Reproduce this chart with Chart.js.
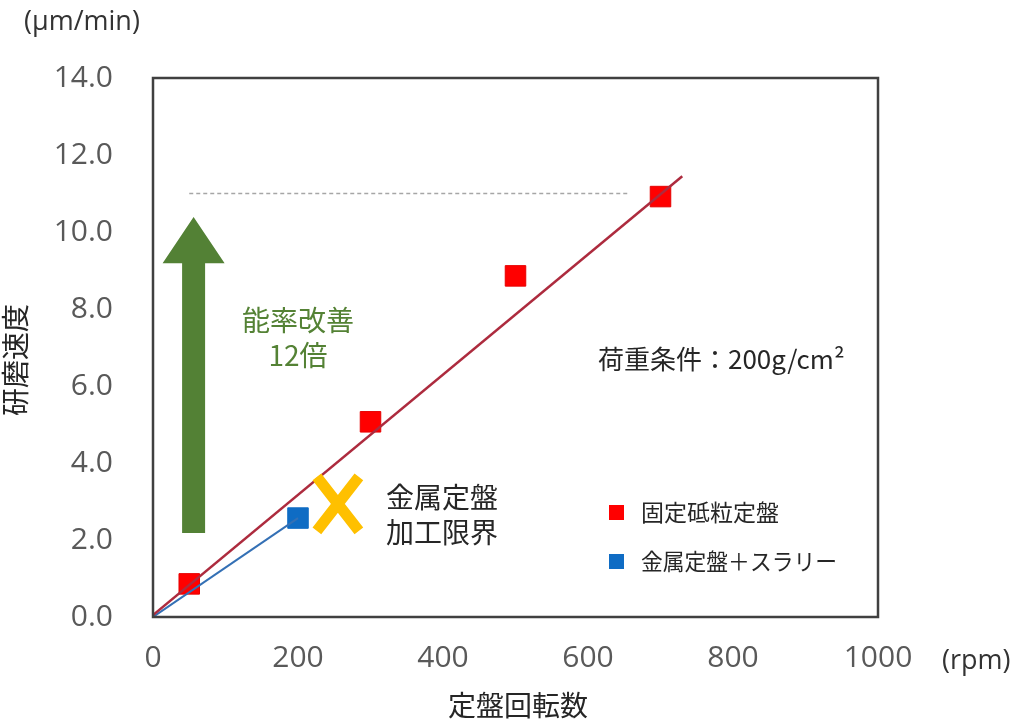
<!DOCTYPE html>
<html>
<head>
<meta charset="utf-8">
<script src="https://cdn.jsdelivr.net/npm/chart.js@4.4.0/dist/chart.umd.min.js"></script>
<style>
  html, body { margin: 0; padding: 0; background: #fff; }
</style>
</head>
<body>
<canvas id="rateChart" width="1014" height="721"></canvas>
<script>
// --- 1. values ---
const xTicks = [0, 200, 400, 600, 800, 1000];
const yTicks = [0, 2, 4, 6, 8, 10, 12, 14];

const fixedRpm = [50, 300, 500, 700];          // 固定砥粒定盤
const fixedRate = [0.86, 5.07, 8.86, 10.92];
const slurryRpm = [200];                        // 金属定盤＋スラリー
const slurryRate = [2.57];

const fixedTrendRpm = [0, 730];
const fixedTrendRate = [0.05, 11.45];
const slurryTrendRpm = [0, 200];
const slurryTrendRate = [0, 2.57];
const targetRpm = [50, 655];                    // dashed guide at the 700rpm level
const targetRate = [11.0, 11.0];

const seriesNames = ['固定砥粒定盤', '金属定盤＋スラリー'];

// annotation anchors (data units)
const arrowAt = { rpm: 56, from: 2.18, head: 9.19, to: 10.39 };
const limitAt = { rpm: 255, rate: 2.94 };

const pts = (xs, ys) => xs.map((x, i) => ({ x: x, y: ys[i] }));

const JP = "'Noto Sans CJK JP', sans-serif";
const NUM = "'Open Sans', 'Noto Sans CJK JP', sans-serif";

// --- 2. extra drawing: frame, arrow, X mark, texts, legend ---
const decor = {
    id: 'decor',
    afterDatasetsDraw(chart) {
        const ctx = chart.ctx;
        const xs = chart.scales.x, ys = chart.scales.y;
        const a = chart.chartArea;
        ctx.save();

        // green arrow
        const ax = xs.getPixelForValue(arrowAt.rpm);
        const yb = ys.getPixelForValue(arrowAt.from);
        const yh = ys.getPixelForValue(arrowAt.head);
        const yt = ys.getPixelForValue(arrowAt.to);
        ctx.fillStyle = '#538135';
        ctx.beginPath();
        ctx.moveTo(ax - 11.5, yb);
        ctx.lineTo(ax - 11.5, yh);
        ctx.lineTo(ax - 31, yh);
        ctx.lineTo(ax, yt);
        ctx.lineTo(ax + 31, yh);
        ctx.lineTo(ax + 11.5, yh);
        ctx.lineTo(ax + 11.5, yb);
        ctx.closePath();
        ctx.fill();

        // yellow X
        const lx = xs.getPixelForValue(limitAt.rpm);
        const ly = ys.getPixelForValue(limitAt.rate);
        ctx.strokeStyle = '#FFC000';
        ctx.lineWidth = 11;
        ctx.beginPath();
        ctx.moveTo(lx - 21, ly - 27); ctx.lineTo(lx + 21, ly + 27);
        ctx.moveTo(lx + 21, ly - 27); ctx.lineTo(lx - 21, ly + 27);
        ctx.stroke();

        // texts inside the plot
        ctx.textBaseline = 'middle';
        ctx.textAlign = 'center';
        ctx.fillStyle = '#548235';
        ctx.font = '28px ' + JP;
        ctx.fillText('能率改善', 298, 320);
        ctx.fillText('12倍', 298, 355);

        ctx.textAlign = 'left';
        ctx.fillStyle = '#262626';
        ctx.fillText('金属定盤', 386, 497);
        ctx.fillText('加工限界', 386, 532);

        ctx.font = '26px ' + JP;
        ctx.fillText('荷重条件：200g/cm²', 598, 359, 250);

        // legend (markers taken from the datasets)
        const ds = chart.data.datasets;
        [0, 1].forEach((k, i) => {
            const cy = 512 + i * 49;
            ctx.fillStyle = ds[k].backgroundColor;
            ctx.fillRect(609, cy - 7, 15, 15);
            ctx.fillStyle = '#262626';
            ctx.font = '23px ' + JP;
            ctx.fillText(ds[k].label, 641, cy, 196);
        });

        // plot frame
        ctx.strokeStyle = '#404040';
        ctx.lineWidth = 2.5;
        ctx.strokeRect(a.left, a.top, a.right - a.left, a.bottom - a.top);

        // units and axis titles
        ctx.fillStyle = '#333333';
        ctx.font = '27px ' + NUM;
        ctx.fillText('(μm/min)', 24, 22);
        ctx.fillText('(rpm)', 942, 661);

        ctx.font = '28px ' + JP;
        ctx.textAlign = 'center';
        ctx.fillStyle = '#262626';
        ctx.fillText('定盤回転数', 518, 705);
        ctx.translate(15, 360);
        ctx.rotate(-Math.PI / 2);
        ctx.fillText('研磨速度', 0, 0);

        ctx.restore();
    }
};

// --- 3. chart ---
new Chart(document.getElementById('rateChart'), {
    type: 'scatter',
    data: {
        datasets: [
            {
                label: seriesNames[0],
                data: pts(fixedRpm, fixedRate),
                backgroundColor: '#FF0000',
                borderColor: '#E60000',
                borderWidth: 1,
                pointStyle: 'rect',
                pointRadius: 14.5,
                order: 2
            },
            {
                label: seriesNames[1],
                data: pts(slurryRpm, slurryRate),
                backgroundColor: '#0F6CC4',
                borderColor: '#0F6CC4',
                borderWidth: 1,
                pointStyle: 'rect',
                pointRadius: 14.5,
                order: 2
            },
            {
                label: 'trend fixed',
                data: pts(fixedTrendRpm, fixedTrendRate),
                showLine: true,
                borderColor: '#AD2B3E',
                borderWidth: 2.5,
                pointRadius: 0,
                order: 1
            },
            {
                label: 'trend slurry',
                data: pts(slurryTrendRpm, slurryTrendRate),
                showLine: true,
                borderColor: '#3470B5',
                borderWidth: 2,
                pointRadius: 0,
                order: 1
            },
            {
                label: 'target',
                data: pts(targetRpm, targetRate),
                showLine: true,
                borderColor: '#A6A6A6',
                borderWidth: 1.5,
                borderDash: [4, 3],
                pointRadius: 0,
                order: 3
            }
        ]
    },
    options: {
        responsive: false,
        animation: false,
        devicePixelRatio: 1,
        layout: { padding: { top: 78, right: 136, left: 0, bottom: 0 } },
        plugins: {
            legend: { display: false },
            tooltip: { enabled: false }
        },
        scales: {
            x: {
                type: 'linear',
                min: 0,
                max: 1000,
                afterBuildTicks: s => { s.ticks = xTicks.map(v => ({ value: v })); },
                afterFit: s => { s.height = 104; },
                grid: { display: false, drawTicks: false },
                border: { display: false },
                ticks: {
                    padding: 23,
                    color: '#595959',
                    font: { family: NUM, size: 30 },
                    callback: v => String(v)
                }
            },
            y: {
                type: 'linear',
                min: 0,
                max: 14,
                afterBuildTicks: s => { s.ticks = yTicks.map(v => ({ value: v })); },
                afterFit: s => { s.width = 153; },
                grid: { display: false, drawTicks: false },
                border: { display: false },
                ticks: {
                    padding: 40,
                    color: '#595959',
                    font: { family: NUM, size: 30 },
                    callback: v => v.toFixed(1)
                }
            }
        }
    },
    plugins: [decor]
});
</script>
</body>
</html>
